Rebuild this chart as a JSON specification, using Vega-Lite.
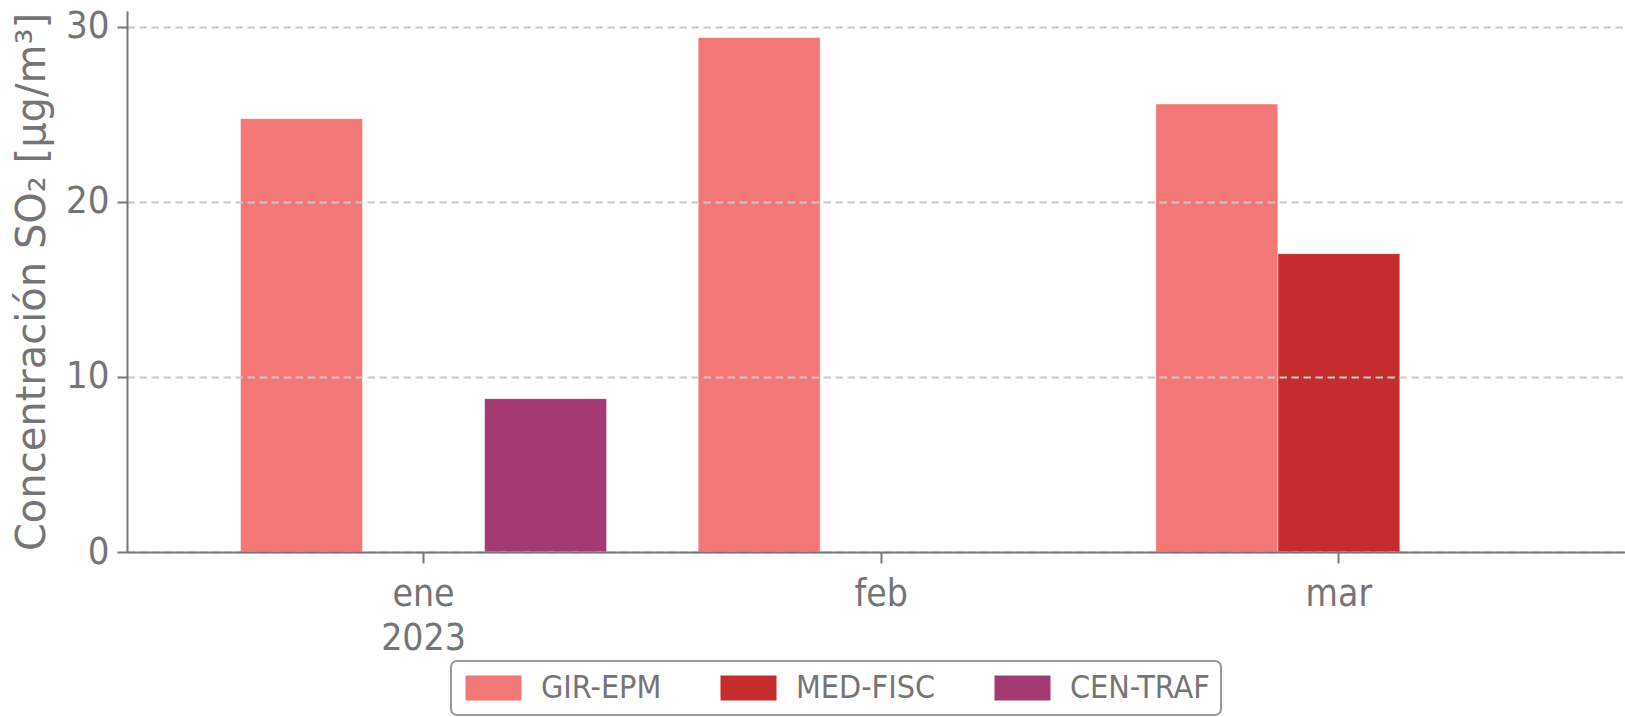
{
  "$schema": "https://vega.github.io/schema/vega-lite/v6.json",
  "width": 1498,
  "height": 541,
  "autosize": {"type": "none"},
  "padding": {"left": 127, "top": 11, "right": 0, "bottom": 165},
  "background": "white",
  "config": {
    "font": "DejaVu Sans Condensed, DejaVu Sans",
    "view": {"stroke": null},
    "legend": {"strokeWidth": 2}
  },
  "data": {
    "values": [
      {"mes": "ene", "estacion": "GIR-EPM", "valor": 24.75},
      {"mes": "ene", "estacion": "CEN-TRAF", "valor": 8.76},
      {"mes": "feb", "estacion": "GIR-EPM", "valor": 29.38},
      {"mes": "mar", "estacion": "GIR-EPM", "valor": 25.59},
      {"mes": "mar", "estacion": "MED-FISC", "valor": 17.04}
    ]
  },
  "mark": {"type": "bar", "stroke": "white", "strokeWidth": 1, "strokeOpacity": 0.5},
  "encoding": {
    "x": {
      "field": "mes",
      "type": "ordinal",
      "sort": ["ene", "feb", "mar"],
      "scale": {"paddingInner": 0.2, "paddingOuter": 0.2366, "align": 0.524},
      "axis": {
        "title": null,
        "labelAngle": 0,
        "labelExpr": "datum.value == 'ene' ? ['ene', '2023'] : datum.value",
        "labelFontSize": 37,
        "labelColor": "#757575",
        "labelBaseline": "top",
        "labelLineHeight": 44,
        "labelPadding": 13,
        "tickSize": 11,
        "tickWidth": 2,
        "tickColor": "#777777",
        "domainColor": "#777777",
        "domainWidth": 2,
        "grid": false,
        "zindex": 2
      }
    },
    "xOffset": {
      "field": "estacion",
      "type": "nominal",
      "sort": ["GIR-EPM", "MED-FISC", "CEN-TRAF"],
      "scale": {"domain": ["GIR-EPM", "MED-FISC", "CEN-TRAF"], "paddingInner": 0, "paddingOuter": 0}
    },
    "y": {
      "field": "valor",
      "type": "quantitative",
      "scale": {"domain": [0, 30.9], "nice": false},
      "axis": {
        "title": "Concentración SO₂ [μg/m³]",
        "titleFont": "DejaVu Sans",
        "titleFontSize": 40,
        "titleFontWeight": "normal",
        "titleColor": "#757575",
        "titlePadding": 13,
        "values": [0, 10, 20, 30],
        "labelFontSize": 38,
        "labelColor": "#757575",
        "labelPadding": 8,
        "tickSize": 10,
        "tickWidth": 2,
        "tickColor": "#777777",
        "domainColor": "#777777",
        "domainWidth": 2,
        "grid": true,
        "gridColor": "#c8c8c8",
        "gridWidth": 2,
        "gridDash": [7.5, 4.5],
        "zindex": 1
      }
    },
    "color": {
      "field": "estacion",
      "type": "nominal",
      "scale": {
        "domain": ["GIR-EPM", "MED-FISC", "CEN-TRAF"],
        "range": ["#f37777", "#c52c2d", "#a33a71"]
      },
      "legend": {
        "title": null,
        "orient": "none",
        "legendX": 324,
        "legendY": 650,
        "direction": "horizontal",
        "columns": 3,
        "gridAlign": "each",
        "columnPadding": 55,
        "symbolType": "M-1,-1H3.48V1H-1Z",
        "symbolSize": 625,
        "symbolStrokeWidth": 0,
        "symbolOpacity": 1,
        "labelFontSize": 32,
        "labelColor": "#757575",
        "labelOffset": 47,
        "padding": 11,
        "strokeColor": "#999999",
        "cornerRadius": 6,
        "fillColor": "white"
      }
    }
  }
}
